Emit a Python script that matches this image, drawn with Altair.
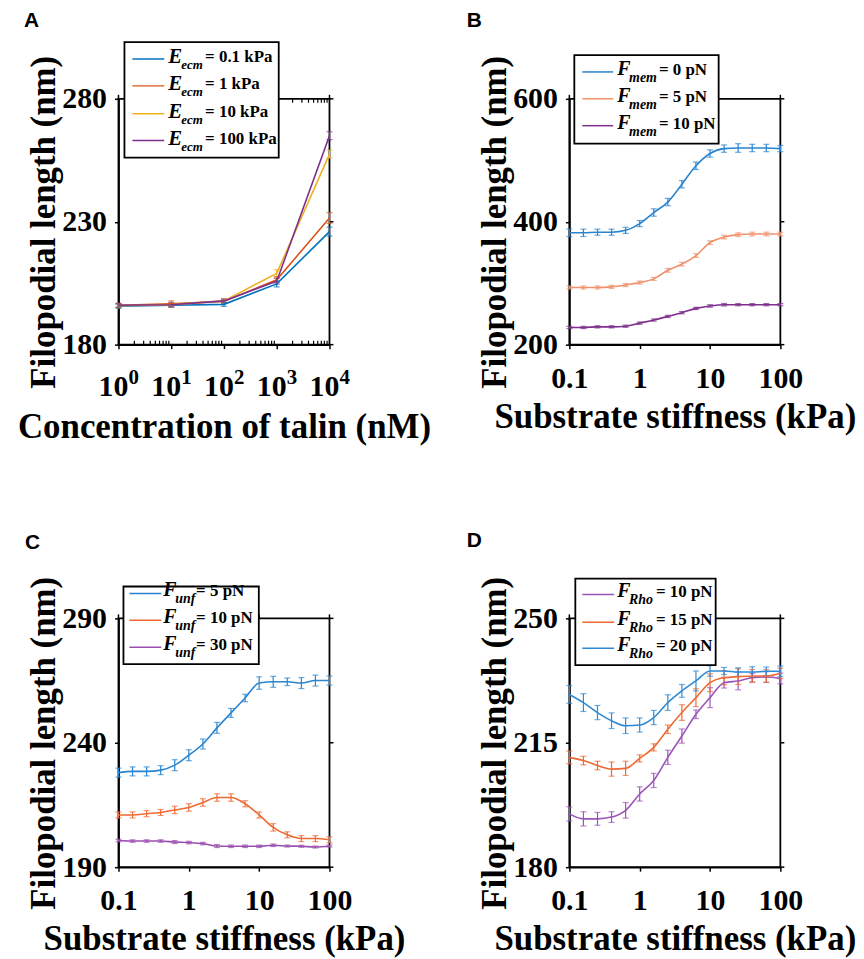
import altair as alt
import pandas as pd

SERIF = "Liberation Serif"
SANS = "Liberation Sans"

# ---------------- data ----------------
# Panel A: talin concentration (nM)
talin = [1, 10, 100, 1000, 10000]
talin_minor = [2, 3, 4, 5, 6, 7, 8, 9, 20, 30, 40, 50, 60, 70, 80, 90,
               200, 300, 400, 500, 600, 700, 800, 900, 2000, 3000, 4000, 5000, 6000, 7000, 8000, 9000]
talin_exp = ["0", "1", "2", "3", "4"]
A_names = ["0.1 kPa", "1 kPa", "10 kPa", "100 kPa"]
A_e01 = [195.6, 196.0, 196.4, 204.7, 226.0]
A_e1 = [196.0, 196.6, 197.6, 206.4, 231.5]
A_e10 = [195.8, 196.2, 197.8, 209.0, 257.5]
A_e100 = [196.0, 196.2, 197.8, 205.8, 265.0]
A_err01 = [0.8, 0.8, 0.8, 1.2, 1.8]
A_err1 = [0.8, 1.2, 0.8, 1.2, 2.2]
A_err10 = [0.8, 0.8, 0.8, 1.5, 1.6]
A_err100 = [0.8, 0.8, 0.8, 1.2, 1.6]

# Panels B-D: substrate stiffness (kPa)
stiff = [0.1, 0.1585, 0.2512, 0.3981, 0.631, 1.0, 1.585, 2.512, 3.981, 6.31,
         10.0, 15.85, 25.12, 39.81, 63.1, 100.0]
ticks_stiff = [0.1, 1, 10, 100]

B_names = ["0 pN", "5 pN", "10 pN"]
B_f0 = [382, 382, 383, 383, 386, 397, 415, 432, 461, 491, 511, 519, 520, 520, 520, 519]
B_f5 = [293, 293, 293, 294, 297, 301, 307, 321, 331, 345, 366, 375, 379, 380, 380, 380]
B_f10 = [228, 228, 229, 229, 230, 235, 240, 246, 252, 259, 263, 265, 265, 265, 265, 265]
B_err0 = [6, 6, 5, 5, 5, 5, 6, 6, 6, 6, 6, 6, 7, 6, 6, 5]
B_err5 = [2.5, 2.5, 2.5, 2.5, 2.5, 2.5, 2.5, 3, 3, 3, 3, 3, 3, 3, 3, 3]
B_err10 = [1.8, 1.8, 1.8, 1.8, 1.8, 1.8, 1.8, 1.8, 1.8, 1.8, 2, 2, 1.8, 1.8, 1.8, 1.8]

C_names = ["5 pN", "10 pN", "30 pN"]
C_f5 = [228, 228.5, 228.5, 229, 231, 235, 239.5, 246, 252, 258, 264, 264.5, 264.5, 264, 265, 265]
C_f10 = [211, 211, 211.5, 212, 213, 214, 216, 218, 218, 215.5, 211, 206, 203, 201.5, 201.5, 201]
C_f30 = [200.7, 200.5, 200.5, 200.5, 200.1, 199.9, 199.5, 198.5, 198.4, 198.4, 198.4, 198.8, 198.5, 198.4, 198.1, 198.5]
C_err5 = [1.8, 1.8, 1.8, 1.8, 2.2, 2.2, 2.0, 2.2, 1.8, 1.5, 2.5, 2.2, 1.5, 2.2, 2.2, 1.8]
C_err10 = [1.2, 1.2, 1.2, 1.2, 1.5, 1.5, 1.5, 1.5, 1.5, 1.2, 1.2, 1.5, 1.2, 1.2, 1.2, 1.2]
C_err30 = [0.5, 0.5, 0.5, 0.5, 0.6, 0.5, 0.5, 0.6, 0.5, 0.5, 0.5, 0.5, 0.4, 0.4, 0.4, 0.4]

D_names = ["10 pN", "15 pN", "20 pN"]
D_f10 = [195.0, 193.6, 193.6, 194.1, 196.0, 200.6, 204.4, 210.9, 216.9, 223.0, 227.7, 231.9, 232.4, 233.3, 233.5, 233.1]
D_f15 = [210.9, 210.0, 208.6, 207.6, 207.8, 210.6, 213.7, 218.8, 223.5, 227.7, 231.9, 233.3, 233.6, 233.8, 233.8, 234.5]
D_f20 = [228.6, 226.3, 223.5, 221.2, 219.8, 220.0, 222.1, 226.3, 229.6, 232.4, 235.2, 235.2, 234.9, 234.9, 235.1, 235.1]
D_err10 = [2.0, 2.0, 1.8, 1.5, 2.2, 2.0, 2.0, 2.0, 2.0, 1.2, 2.8, 1.5, 2.5, 1.2, 1.5, 1.5]
D_err15 = [1.8, 1.2, 1.2, 2.0, 2.0, 1.0, 1.0, 1.2, 2.2, 2.5, 2.5, 2.0, 2.2, 1.8, 1.8, 1.5]
D_err20 = [2.5, 2.5, 2.0, 2.2, 2.2, 2.0, 2.0, 2.2, 1.8, 2.8, 1.5, 1.0, 1.2, 1.5, 1.2, 1.5]

# ---------------- helpers ----------------
one = pd.DataFrame({"d": [0]})


def series_df(tag, xs, names, vals, errs):
    rows = []
    for n, v, e in zip(names, vals, errs):
        for x, y, err in zip(xs, v, e):
            rows.append({"x": x, "y": y, "lo": y - err, "hi": y + err, "s": tag + n})
    return pd.DataFrame(rows)


def panel(tag, df, names, colors, xscale, xaxis, yscale, yaxis, xticks, yticks,
          width, height, legend, letter, interp, extra=None):
    color = alt.Color("s:N", scale=alt.Scale(domain=[tag + n for n in names], range=colors), legend=None)
    X = lambda f: alt.X(f, scale=xscale, axis=xaxis)
    Y = lambda f: alt.Y(f, scale=yscale, axis=yaxis)
    base = alt.Chart(df)
    layers = []
    # frame
    layers.append(alt.Chart(one).mark_rect(fillOpacity=0, stroke="black", strokeWidth=1.8).encode(
        x=alt.value(0), x2=alt.value(width), y=alt.value(0), y2=alt.value(height)))
    # right / top ticks (mirror)
    layers.append(alt.Chart(pd.DataFrame({"y": yticks})).mark_rule(color="black", strokeWidth=1.5).encode(
        y=Y("y:Q"), x=alt.value(width), x2=alt.value(width + 4)))
    layers.append(alt.Chart(pd.DataFrame({"x": xticks})).mark_rule(color="black", strokeWidth=1.5).encode(
        x=X("x:Q"), y=alt.value(0), y2=alt.value(-4)))
    if extra:
        layers.extend(extra(X, Y))
    # error bars
    layers.append(base.mark_rule(strokeWidth=1.2).encode(x=X("x:Q"), y=Y("lo:Q"), y2="hi:Q", color=color))
    layers.append(base.mark_tick(orient="horizontal", size=6, thickness=1.2).encode(x=X("x:Q"), y=Y("lo:Q"), color=color))
    layers.append(base.mark_tick(orient="horizontal", size=6, thickness=1.2).encode(x=X("x:Q"), y=Y("hi:Q"), color=color))
    # lines
    layers.append(base.mark_line(strokeWidth=1.6, interpolate=interp).encode(
        x=X("x:Q"), y=Y("y:Q"), color=color, detail="s:N"))
    # legend
    bx0, by0, bx1, by1 = legend["box"]
    layers.append(alt.Chart(one).mark_rect(fill="white", stroke="black", strokeWidth=1.8).encode(
        x=alt.value(bx0), x2=alt.value(bx1), y=alt.value(by0), y2=alt.value(by1)))
    lx0, lx1 = legend["line"]
    for row, name, col in zip(legend["rows"], names, colors):
        layers.append(alt.Chart(one).mark_rule(color=col, strokeWidth=1.5).encode(
            x=alt.value(lx0), x2=alt.value(lx1), y=alt.value(row)))
        layers.append(alt.Chart(one).mark_text(
            text=legend["main"], font=SERIF, fontSize=legend["msize"], fontWeight="bold", fontStyle="italic",
            align="left", baseline="alphabetic", color="black").encode(
            x=alt.value(legend["mx"]), y=alt.value(row + legend["mdy"])))
        layers.append(alt.Chart(one).mark_text(
            text=legend["sub"], font=SERIF, fontSize=legend["ssize"], fontWeight="bold", fontStyle="italic",
            align="left", baseline="alphabetic", color="black").encode(
            x=alt.value(legend["sx"]), y=alt.value(row + legend["sdy"])))
        layers.append(alt.Chart(one).mark_text(
            text="= " + name, font=SERIF, fontSize=17, fontWeight="bold",
            align="left", baseline="alphabetic", color="black").encode(
            x=alt.value(legend["rx"]), y=alt.value(row + 3)))
    # panel letter
    layers.append(alt.Chart(one).mark_text(
        text=letter[0], font=SANS, fontSize=21, fontWeight="bold", align="left",
        baseline="alphabetic", color="black").encode(x=alt.value(letter[1]), y=alt.value(letter[2])))
    return alt.layer(*layers).properties(width=width, height=height)


YT = "Filopodial length (nm)"
W = 212


def y_axis(vals):
    return alt.Axis(values=vals, title=YT, labelPadding=8, titlePadding=0, labelFlush=False)


# ---------------- Panel A ----------------
A_df = series_df("A", talin, A_names, [A_e01, A_e1, A_e10, A_e100], [A_err01, A_err1, A_err10, A_err100])
A_xscale = alt.Scale(type="log", domain=[1, 10000], nice=False)
A_xaxis = alt.Axis(values=talin, labelExpr="'10'", labelAlign="right", labelOffset=9.5, labelFlush=False,
                   labelPadding=23, title="Concentration of talin (nM)", titlePadding=8)
A_yscale = alt.Scale(domain=[180, 280], nice=False, zero=False)
HA = 247


def A_extra(X, Y):
    mdf = pd.DataFrame({"x": talin_minor})
    return [
        alt.Chart(mdf).mark_rule(color="black", strokeWidth=1.2).encode(
            x=X("x:Q"), y=alt.value(HA), y2=alt.value(HA - 4)),
        alt.Chart(mdf).mark_rule(color="black", strokeWidth=1.2).encode(
            x=X("x:Q"), y=alt.value(0), y2=alt.value(4)),
        alt.Chart(pd.DataFrame({"x": talin, "t": talin_exp})).mark_text(
            font=SERIF, fontSize=21, fontWeight="bold", align="left", baseline="alphabetic",
            dx=10, color="black").encode(x=X("x:Q"), y=alt.value(HA + 40), text="t:N"),
    ]


A = panel("A", A_df, A_names, ["#0072BD", "#D95319", "#EDB120", "#7E2F8E"],
          A_xscale, A_xaxis, A_yscale, y_axis([180, 230, 280]), talin, [180, 230, 280], W, HA,
          dict(box=(6, -57, 161, 59), rows=[-40, -13, 15, 42], line=(14, 46),
               main="E", sub="ecm", msize=21, ssize=13, mx=50, sx=63, rx=87, mdy=4, sdy=10),
          ("A", -95, -72), "linear", extra=A_extra)

# ---------------- Panels B-D ----------------
S_xscale = alt.Scale(type="log", domain=[0.1, 100], nice=False)
S_xaxis = alt.Axis(values=ticks_stiff, format="~g", labelPadding=15, labelFlush=False,
                   title="Substrate stiffness (kPa)", titlePadding=6)

B_df = series_df("B", stiff, B_names, [B_f0, B_f5, B_f10], [B_err0, B_err5, B_err10])
B = panel("B", B_df, B_names, ["#2A84CF", "#F0916C", "#7E2F8E"],
          S_xscale, S_xaxis, alt.Scale(domain=[200, 600], nice=False, zero=False),
          y_axis([200, 400, 600]), ticks_stiff, [200, 400, 600], W, 247,
          dict(box=(5, -44, 150, 45), rows=[-27, 0, 27], line=(13, 44),
               main="F", sub="mem", msize=20, ssize=14, mx=48, sx=60, rx=90, mdy=3, sdy=10),
          ("B", -103, -72), "monotone")

C_df = series_df("C", stiff, C_names, [C_f5, C_f10, C_f30], [C_err5, C_err10, C_err30])
C = panel("C", C_df, C_names, ["#2A84CF", "#EE6A32", "#9A4FB0"],
          S_xscale, S_xaxis, alt.Scale(domain=[190, 290], nice=False, zero=False),
          y_axis([190, 240, 290]), ticks_stiff, [190, 240, 290], W, 250,
          dict(box=(5, -32, 141, 46), rows=[-25, 2, 29], line=(11, 43),
               main="F", sub="unf", msize=20, ssize=14, mx=45, sx=57, rx=78, mdy=3, sdy=10),
          ("C", -94, -70), "monotone")

D_df = series_df("D", stiff, D_names, [D_f10, D_f15, D_f20], [D_err10, D_err15, D_err20])
D = panel("D", D_df, D_names, ["#9B55B8", "#EE6A32", "#2E8AD6"],
          S_xscale, S_xaxis, alt.Scale(domain=[180, 250], nice=False, zero=False),
          y_axis([180, 215, 250]), ticks_stiff, [180, 215, 250], W, 250,
          dict(box=(6, -40, 147, 47), rows=[-24, 4, 30], line=(13, 45),
               main="F", sub="Rho", msize=20, ssize=14, mx=48, sx=60, rx=87, mdy=3, sdy=10),
          ("D", -103, -72), "monotone")

chart = alt.concat(A, B, C, D, columns=2, spacing={"row": 275, "column": 241}, bounds="flush").resolve_scale(
    color="independent"
).properties(
    padding={"left": 9, "top": 0, "right": 0, "bottom": 0},
).configure_view(stroke=None).configure_axis(
    labelFont=SERIF, labelFontSize=30, labelFontWeight="bold", labelColor="black",
    titleFont=SERIF, titleFontSize=35, titleFontWeight="bold", titleColor="black",
    domainColor="black", domainWidth=1.8, tickColor="black", tickWidth=1.5, tickSize=4, grid=False
)

chart.save("out.html", embed_options={"renderer": "svg", "actions": False})
